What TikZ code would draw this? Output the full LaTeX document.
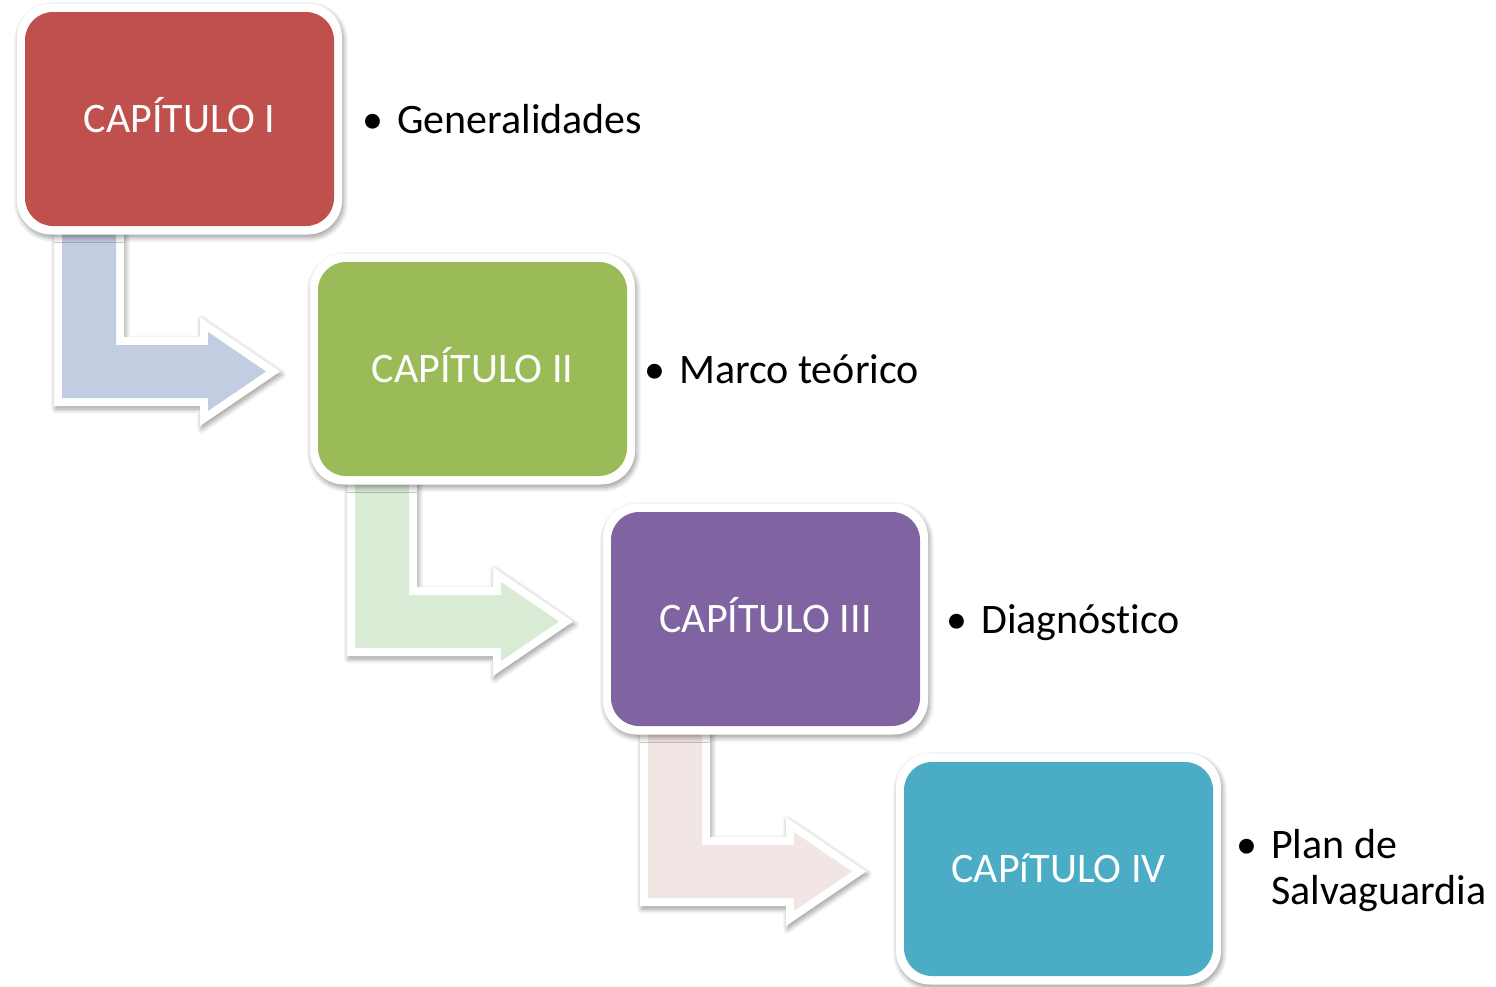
\documentclass[tikz,border=0pt]{standalone}
\usepackage{fontspec}
\setmainfont{Carlito}[Ligatures=NoCommon]
\usetikzlibrary{shadows.blur}
\definecolor{boxA}{RGB}{192,80,77}
\definecolor{boxB}{RGB}{155,187,89}
\definecolor{boxC}{RGB}{128,100,162}
\definecolor{boxD}{RGB}{75,172,198}
\definecolor{arrA}{RGB}{195,205,226}
\definecolor{arrB}{RGB}{217,234,213}
\definecolor{arrC}{RGB}{242,230,229}
\tikzset{
  softshadow/.style={blur shadow={shadow xshift=1.5pt, shadow yshift=-3pt, shadow opacity=40,
    shadow blur radius=5pt, shadow blur steps=8}},
  backbox/.style={rectangle, rounded corners=34pt, fill=white, minimum width=325pt,
    minimum height=231pt, inner sep=0pt, softshadow},
  chapbox/.style={rectangle, rounded corners=28pt, fill=#1, minimum width=309pt,
    minimum height=214pt, inner sep=0pt, text=white, text height=27pt, text depth=0pt,
    font=\fontsize{42}{50}\selectfont},
  bul/.style={anchor=base west, inner sep=0pt, font=\fontsize{42}{50}\selectfont},
  lbl/.style={anchor=base west, inner sep=0pt, font=\fontsize{42}{50}\selectfont},
  pics/bentarrow/.style={code={
    \path[fill=white, softshadow]
      (-125.5,100) -- (-55.5,100) -- (-55.5,218) -- (20.5,218) -- (20.5,198)
      -- (100.7,252.5) -- (20.5,307) -- (20.5,287) -- (-125.5,287) -- cycle;
    \fill[#1]
      (-117.5,100) -- (-63.5,100) -- (-63.5,226) -- (28.5,226) -- (28.5,213)
      -- (86.5,252.5) -- (28.5,292) -- (28.5,279) -- (-117.5,279) -- cycle;
  }}
}
\begin{document}
\begin{tikzpicture}[x=1pt,y=-1pt]
\useasboundingbox (0,0) rectangle (1496,986);
\coordinate (c1) at (179.5,119);
\coordinate (c2) at (472.5,369);
\coordinate (c3) at (765.5,619);
\coordinate (c4) at (1058.5,869);
\pic at (c1) {bentarrow=arrA};
\pic at (c2) {bentarrow=arrB};
\pic at (c3) {bentarrow=arrC};
\node[backbox] (s1) at (c1) {};
\node[backbox] (s2) at (c2) {};
\node[backbox] (s3) at (c3) {};
\node[backbox] (s4) at (c4) {};
\node[chapbox=boxA] (b1) at (c1) {CAPÍTULO I};
\node[chapbox=boxB] (b2) at (c2) {CAPÍTULO II};
\node[chapbox=boxC] (b3) at (c3) {CAPÍTULO III};
\node[chapbox=boxD] (b4) at (c4) {CAPíTULO IV};
\node[bul] (d1) at (362,133) {•};
\node[lbl] (t1) at (397,133) {Generalidades};
\node[bul] (d2) at (644,383) {•};
\node[lbl] (t2) at (679,383) {Marco teórico};
\node[bul] (d3) at (946,633) {•};
\node[lbl] (t3) at (981,633) {Diagnóstico};
\node[bul] (d4) at (1236,858) {•};
\node[lbl] (t4) at (1271,858) {Plan de};
\node[lbl] (t5) at (1271,904) {Salvaguardia};
\end{tikzpicture}
\end{document}
